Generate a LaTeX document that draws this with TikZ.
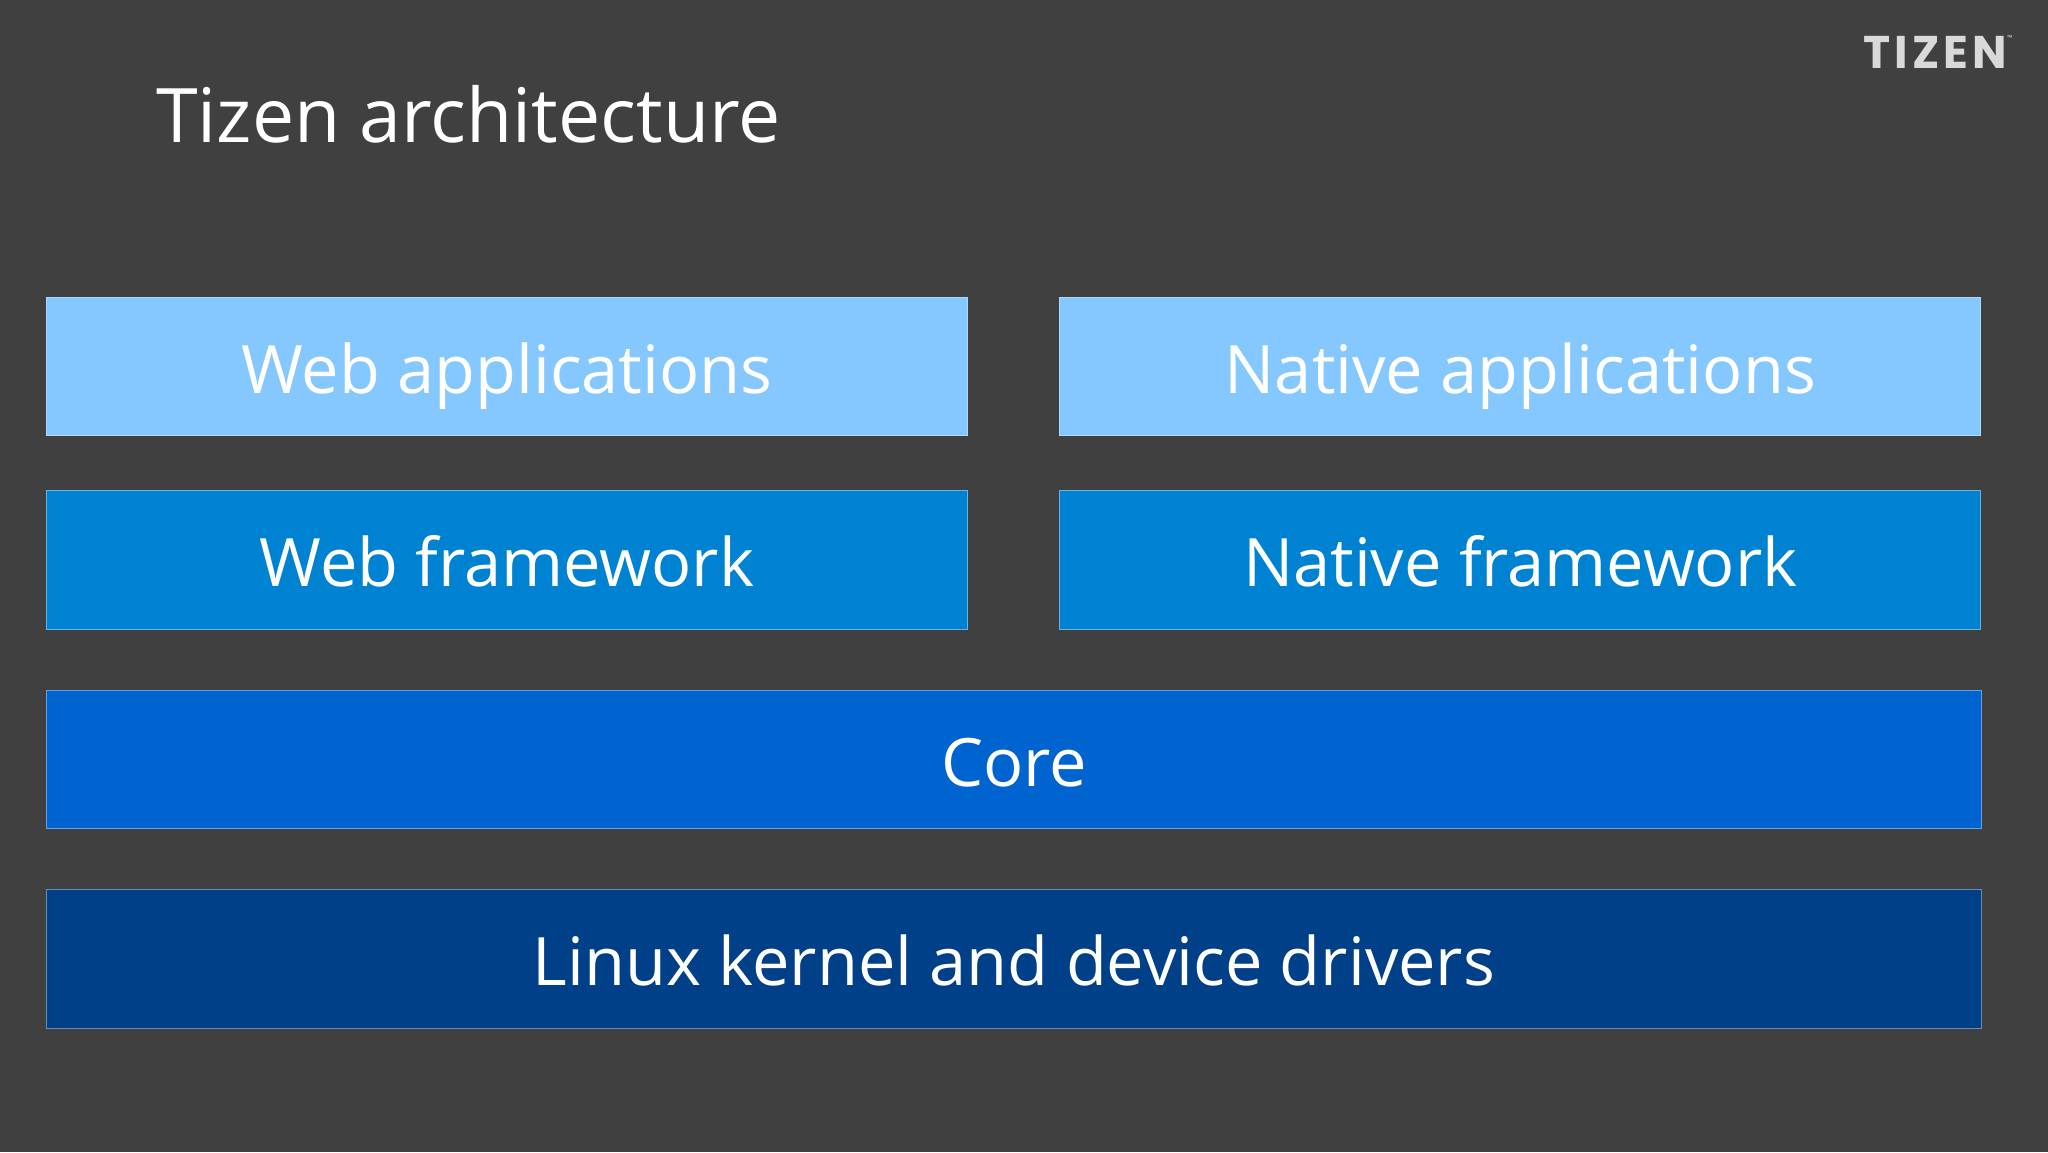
\documentclass[tikz,border=0pt]{standalone}
\usepackage{fontspec}
\setmainfont{Open Sans}
\newfontfamily\logofont{Poppins}[LetterSpace=9]
\usepackage{tikz}
\usetikzlibrary{positioning}
\definecolor{slide}{HTML}{404040}
\definecolor{appblue}{HTML}{85C8FF}
\definecolor{frameblue}{HTML}{0082D2}
\definecolor{coreblue}{HTML}{0064D0}
\definecolor{kernelblue}{HTML}{004088}
\tikzstyle{layer} = [line width=0.75pt, anchor=north west, inner sep=0pt, text height=64bp, text depth=10bp,
minimum height=138.5bp, text=white, font=\fontsize{67}{67}\selectfont]
\tikzstyle{half} = [layer, minimum width=921bp]
\tikzstyle{full} = [layer, minimum width=1935bp]

\begin{document}
\begin{tikzpicture}[x=1bp, y=-1bp]
      \useasboundingbox[fill=slide] (0,0) rectangle (2048,1152);
      \node [anchor=west, text=white, inner sep=0pt, font=\fontsize{75.5}{75.5}\selectfont] (title) at (156,114) {Tizen architecture};
      \node [anchor=east, text=white!85!black, inner sep=0pt, font=\logofont\fontsize{46}{46}\selectfont\bfseries] (logo) at (2007,52) {TIZEN};
      \node [anchor=north west, text=white!85!black, inner sep=0pt, font=\fontsize{7}{7}\selectfont] (tm) at (logo.north east) {™};
      %% Layers
      \node [half, draw=appblue!70!white, fill=appblue] (webapp) at (46,296.5) {Web applications};
      \node [half, draw=appblue!70!white, fill=appblue] (nativeapp) at (1059.4,296.5) {Native applications};
      \node [half, draw=frameblue!60!white, fill=frameblue] (webfw) at (46,490) {Web framework};
      \node [half, draw=frameblue!60!white, fill=frameblue] (nativefw) at (1059.4,490) {Native framework};
      \node [full, draw=coreblue!60!white, fill=coreblue] (core) at (46,689.5) {Core};
      \node [full, draw=kernelblue!60!white, fill=kernelblue] (kernel) at (46,889) {Linux kernel and device drivers};
    \end{tikzpicture}
\end{document}
